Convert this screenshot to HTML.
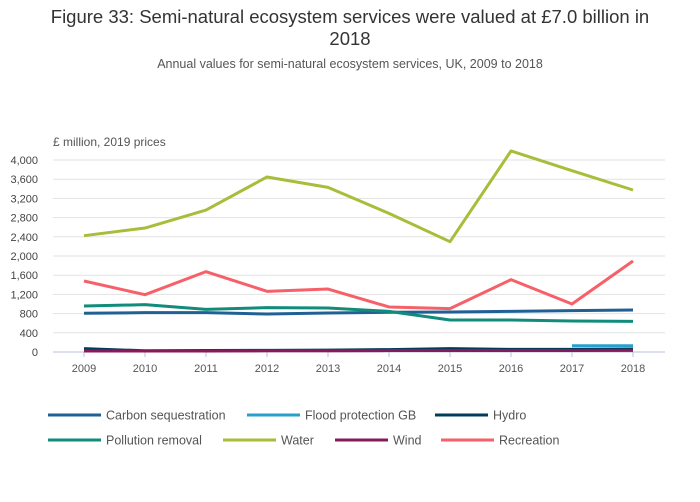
<!DOCTYPE html>
<html><head><meta charset="utf-8"><style>
body{margin:0;background:#fff;font-family:"Liberation Sans",sans-serif;}
#wrap{position:relative;width:700px;height:502px;}
.t{position:absolute;left:0;width:700px;text-align:center;color:#222;}
</style></head><body>
<div id="wrap">
<div class="t" style="top:6px;font-size:18.5px;line-height:22px;color:#333">Figure 33: Semi-natural ecosystem services were valued at £7.0 billion in<br>2018</div>
<div class="t" style="top:57px;font-size:12.5px;color:#555">Annual values for semi-natural ecosystem services, UK, 2009 to 2018</div>
<svg id="svg" width="700" height="502" style="position:absolute;left:0;top:0"></svg>
</div>
<script>
const years=[2009,2010,2011,2012,2013,2014,2015,2016,2017,2018];
const yTicks=[0,400,800,1200,1600,2000,2400,2800,3200,3600,4000];
const carbon=[806,820,820,792,813,827,834,847,861,875];
const flood=[null,null,null,null,null,null,null,null,130,130];
const hydro=[70,25,30,35,40,50,70,55,55,60];
const pollution=[958,986,889,924,917,847,667,667,646,639];
const water=[2423,2583,2958,3646,3430,2888,2298,4188,3778,3375];
const wind=[20,20,20,25,25,30,30,30,30,35];
const recreation=[1479,1194,1674,1264,1312,938,903,1507,1000,1896];
const seriesNames=["Carbon sequestration","Flood protection GB","Hydro","Pollution removal","Water","Wind","Recreation"];
const NS="http://www.w3.org/2000/svg";
const svg=document.getElementById('svg');
function X(i){return 84+i*(633-84)/9;}
function Y(v){return 352-v*192/4000;}
function el(t,a){const e=document.createElementNS(NS,t);for(const k in a)e.setAttribute(k,a[k]);svg.appendChild(e);return e;}
yTicks.forEach(v=>{
 const g=el('line',{x1:53,x2:665,y1:Y(v),y2:Y(v),stroke:v==0?'#b8c0d8':'#e2e2e2','stroke-width':1});
 
 
 const t=el('text',{x:38,y:Y(v)+4,'text-anchor':'end','font-size':11,fill:'#444'});
 t.textContent=v.toLocaleString('en-GB');
 
 
});
const yl=el('text',{x:53,y:146,'font-size':12,fill:'#555'});yl.textContent='£ million, 2019 prices';


years.forEach((yr,i)=>{
 const tk=el('line',{x1:X(i),x2:X(i),y1:352,y2:357,stroke:'#b8c0d8'});
 
 
 const t=el('text',{x:X(i),y:372,'text-anchor':'middle','font-size':11,fill:'#555'});t.textContent=yr;
 
 
});
const data=[carbon,flood,hydro,pollution,water,wind,recreation];
const colors=['#206095','#27a0cc','#003c57','#118c7b','#a8bd3a','#871a5b','#f66068'];
const order=[0,3,4,6,2,5,1];
order.forEach(s=>{
 let d='';let pen=false;
 data[s].forEach((v,i)=>{if(v==null){pen=false;return;}d+=(pen?'L':'M')+X(i)+','+Y(v);pen=true;});
 const p=el('path',{d:d,fill:'none',stroke:colors[s],'stroke-width':3,'stroke-linejoin':'round'});
 
 
});
const leg=[[48,416],[247,416],[435,416],[48,441],[223,441],[335,441],[441,441]];
seriesNames.forEach((n,s)=>{
 const [lx,ly]=leg[s];
 const l=el('line',{x1:lx,x2:lx+53,y1:ly-1,y2:ly-1,stroke:colors[s],'stroke-width':3});
 
 
 const t=el('text',{x:lx+58,y:ly+3.5,'font-size':12.5,fill:'#555'});t.textContent=n;
 
 
});
</script>
</body></html>
